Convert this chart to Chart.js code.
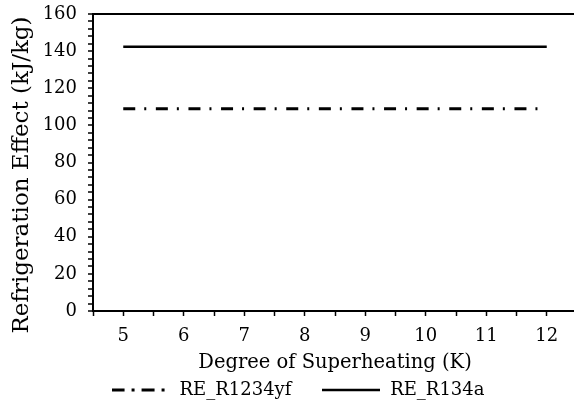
<!DOCTYPE html>
<html>
<head>
<meta charset="utf-8">
<script src="https://cdn.jsdelivr.net/npm/chart.js@4/dist/chart.umd.min.js"></script>
<style>
  html, body { margin: 0; padding: 0; background: #fff; overflow: hidden; }
  #kutu { width: 574px; height: 409px; overflow: hidden; position: relative; }
  #kutu canvas { position: absolute; left: 0; top: 0; }
</style>
</head>
<body>
<div id="kutu"><canvas id="grafik" width="577" height="409"></canvas></div>
<script>
// Veriler
const kizdirma = [5, 6, 7, 8, 9, 10, 11, 12];
const re_R1234yf = [109, 109, 109, 109, 109, 109, 109, 109];
const re_R134a = [142.3, 142.3, 142.3, 142.3, 142.3, 142.3, 142.3, 142.3];
const yEtiketleri = [0, 20, 40, 60, 80, 100, 120, 140, 160];
const yBaslik = 'Refrigeration Effect (kJ/kg)';

const YAZI = 'DejaVu Serif';

// Lejant icin kucuk cizgi ornekleri
function cizgiOrnegi(desen, kalinlik) {
    const c = document.createElement('canvas');
    c.width = 58; c.height = 6;
    const g = c.getContext('2d');
    g.strokeStyle = '#000';
    g.lineWidth = kalinlik;
    g.setLineDash(desen);
    g.beginPath();
    g.moveTo(0, 3);
    g.lineTo(58, 3);
    g.stroke();
    return c;
}

// Dikey eksen basligi: biraz asagi kaymis, elle ciziliyor
const eksenBasligi = {
    id: 'eksenBasligi',
    afterDraw(chart) {
        const g = chart.ctx;
        g.save();
        g.translate(22, 175);
        g.rotate(-Math.PI / 2);
        g.font = '23px "' + YAZI + '"';
        g.fillStyle = '#000';
        g.textAlign = 'center';
        g.textBaseline = 'middle';
        g.fillText(yBaslik, 0, 0);
        g.restore();
    }
};

const noktalar = (dizi) => kizdirma.map((x, i) => ({ x: x, y: dizi[i] }));

const ctx = document.getElementById('grafik').getContext('2d');
new Chart(ctx, {
    type: 'line',
    data: {
        datasets: [
            {
                // sondaki bosluklar lejant ogeleri arasini acar
                label: 'RE_R1234yf\u2002\u2002 ',
                data: noktalar(re_R1234yf),
                borderColor: '#000',
                borderWidth: 3,
                borderDash: [12, 9, 2, 9.6],
                pointRadius: 0,
                pointStyle: cizgiOrnegi([13, 7, 3, 7], 3)
            },
            {
                label: 'RE_R134a',
                data: noktalar(re_R134a),
                borderColor: '#000',
                borderWidth: 2.5,
                pointRadius: 0,
                pointStyle: cizgiOrnegi([], 2.5)
            }
        ]
    },
    options: {
        responsive: false,
        animation: false,
        layout: { padding: { top: 14, left: 18, right: 0, bottom: 0 } },
        scales: {
            x: {
                type: 'linear',
                min: 4.5,
                max: 12.5,
                afterFit: (s) => { s.height = 64; s.paddingLeft = 0; s.paddingRight = 0; },
                border: { color: '#000', width: 2 },
                grid: { drawOnChartArea: false, tickLength: 5, tickColor: '#000', tickWidth: 1.5 },
                ticks: {
                    stepSize: 0.5,
                    color: '#000',
                    padding: 10,
                    maxRotation: 0,
                    autoSkip: false,
                    font: { family: YAZI, size: 18 },
                    callback: (v) => Number.isInteger(v) ? String(v) : ''
                },
                title: {
                    display: true,
                    text: 'Degree of Superheating (K)',
                    color: '#000',
                    font: { family: YAZI, size: 19.5 },
                    padding: { top: 0, bottom: 0 }
                }
            },
            y: {
                min: 0,
                max: 160,
                afterFit: (s) => { s.width = 75; s.paddingTop = 0; s.paddingBottom = 0; },
                border: { color: '#000', width: 2 },
                grid: {
                    tickLength: 5,
                    tickColor: '#000',
                    tickWidth: 1.5,
                    color: (c) => (c.tick && c.tick.value === 160) ? '#000' : 'rgba(0,0,0,0)',
                    lineWidth: 2
                },
                ticks: {
                    stepSize: 4,
                    color: '#000',
                    padding: 11,
                    autoSkip: false,
                    font: { family: YAZI, size: 18 },
                    callback: (v) => yEtiketleri.includes(v) ? String(v) : ''
                }
            }
        },
        plugins: {
            legend: {
                position: 'bottom',
                labels: {
                    usePointStyle: true,
                    pointStyleWidth: 60,
                    color: '#000',
                    padding: 6,
                    font: { family: YAZI, size: 18 }
                }
            },
            tooltip: { enabled: false }
        }
    },
    plugins: [eksenBasligi]
});
</script>
</body>
</html>
